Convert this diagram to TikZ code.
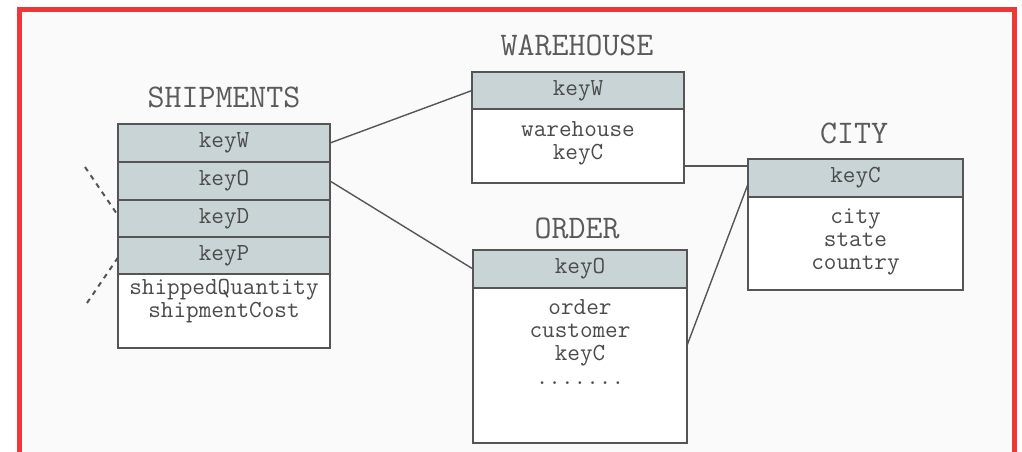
\documentclass[tikz,border=0pt]{standalone}
\definecolor{frame}{RGB}{240,55,55}
\definecolor{bgc}{RGB}{250,250,250}
\definecolor{keyfill}{RGB}{201,212,215}
\definecolor{edge}{RGB}{85,85,85}
\definecolor{txt}{RGB}{75,75,75}
\definecolor{ttl}{RGB}{90,90,90}
\tikzset{
  keyrow/.style={draw=edge, line width=1.6pt, fill=keyfill, inner sep=0pt, outer sep=0pt,
    minimum height=38pt, font=\ttfamily\fontsize{24.5}{23}\selectfont, text=txt},
  bodybox/.style={draw=edge, line width=1.6pt, fill=white, inner sep=0pt, outer sep=0pt},
  attrtext/.style={inner sep=0pt, anchor=base, align=center,
    font=\ttfamily\fontsize{24.5}{23}\selectfont, text=txt},
  tabletitle/.style={inner sep=0pt, font=\ttfamily\fontsize{33}{30}\selectfont, text=ttl},
  link/.style={draw=edge, line width=1.4pt},
  fklink/.style={draw=edge, line width=2pt, dash pattern=on 5pt off 5pt}
}
\begin{document}
\begin{tikzpicture}[x=1pt,y=-1pt]
\useasboundingbox (0,0) rectangle (1022,452);
\fill[white] (0,0) rectangle (1022,452);
\fill[bgc] (19.5,9.5) rectangle (1014.5,470);
\draw[frame, line width=5pt] (19.5,470) -- (19.5,9.5) -- (1014.5,9.5) -- (1014.5,470);

% SHIPMENTS
\node[tabletitle] (sT) at (224,97) {SHIPMENTS};
\node[keyrow, minimum width=212pt] (sW) at (224,143) {keyW};
\node[keyrow, minimum width=212pt] (sO) at (224,181) {keyO};
\node[keyrow, minimum width=212pt, minimum height=37pt] (sD) at (224,218.5) {keyD};
\node[keyrow, minimum width=212pt, minimum height=37pt] (sP) at (224,255.5) {keyP};
\node[bodybox, minimum width=212pt, minimum height=74pt] (sB) at (224,311) {};
\node[attrtext] (sA) at (224,317) {shippedQuantity\\shipmentCost};

% WAREHOUSE
\node[tabletitle] (wT) at (577,45) {WAREHOUSE};
\node[keyrow, minimum width=212pt, minimum height=37pt] (wW) at (578,90.5) {keyW};
\node[bodybox, minimum width=212pt, minimum height=74pt] (wB) at (578,146) {};
\node[attrtext] (wA) at (578,159) {warehouse\\keyC};

% ORDER
\node[tabletitle] (oT) at (577,228) {ORDER};
\node[keyrow, minimum width=214pt] (oO) at (580,269) {keyO};
\node[bodybox, minimum width=214pt, minimum height=155pt] (oB) at (580,365.5) {};
\node[attrtext] (oA) at (580,384) {order\\customer\\keyC\\[1pt].......};

% CITY
\node[tabletitle] (cT) at (854,133) {CITY};
\node[keyrow, minimum width=215pt] (cK) at (855.5,178) {keyC};
\node[bodybox, minimum width=215pt, minimum height=93pt] (cB) at (855.5,243.5) {};
\node[attrtext] (cA) at (855.5,269) {city\\state\\country};

% connectors
\draw[link] (sW.east) -- (wW.west);
\draw[link] (sO.east) -- (oO.west);
\coordinate (wc) at ([yshift=-20pt]wB.east);
\draw[link] (wc) -- (wc -| cK.west);
\draw[link] ([yshift=20pt]oB.east) -- ([yshift=-6pt]cK.west);

% incoming foreign keys
\coordinate (fD) at (85,167);
\coordinate (fP) at (87,303);
\draw[fklink] (fD) -- ([yshift=3pt]sD.west);
\draw[fklink] (fP) -- ([yshift=-2pt]sP.west);
\end{tikzpicture}
\end{document}
